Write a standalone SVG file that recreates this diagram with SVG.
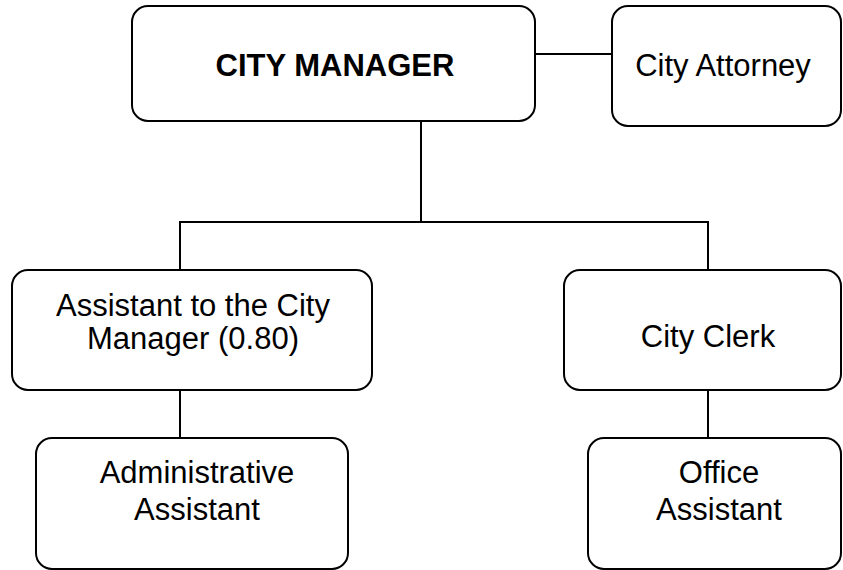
<svg xmlns="http://www.w3.org/2000/svg" width="843" height="570" viewBox="0 0 843 570">
<style>
.box{fill:#fff;stroke:#000;stroke-width:2}
.ln{fill:none;stroke:#000;stroke-width:2}
text{font-family:"Liberation Sans",Arial,sans-serif;font-size:31px;fill:#000;text-anchor:middle}
.b{font-weight:bold}
</style>
<rect width="843" height="570" fill="#fff"/>
<g id="connectors">
<line class="ln" x1="535" y1="54" x2="612" y2="54"/>
<line class="ln" x1="421" y1="121" x2="421" y2="222"/>
<polyline class="ln" points="180,270 180,222 708,222 708,270"/>
<line class="ln" x1="180" y1="390" x2="180" y2="438"/>
<line class="ln" x1="708" y1="390" x2="708" y2="438"/>
</g>
<g id="city-manager">
<rect class="box" x="132" y="6" width="403" height="115" rx="16"/>
<text class="b" x="335" y="76">CITY MANAGER</text>
</g>
<g id="city-attorney">
<rect class="box" x="612" y="6" width="229" height="120" rx="16"/>
<text x="723" y="76">City Attorney</text>
</g>
<g id="assistant-city-manager">
<rect class="box" x="12" y="270" width="360" height="120" rx="16"/>
<text x="193" y="316">Assistant to the City</text>
<text x="193" y="349">Manager (0.80)</text>
</g>
<g id="city-clerk">
<rect class="box" x="564" y="270" width="277" height="120" rx="16"/>
<text x="708" y="347">City Clerk</text>
</g>
<g id="administrative-assistant">
<rect class="box" x="36" y="438" width="312" height="131" rx="16"/>
<text x="197" y="483">Administrative</text>
<text x="197" y="520">Assistant</text>
</g>
<g id="office-assistant">
<rect class="box" x="588" y="438" width="253" height="131" rx="16"/>
<text x="719" y="483">Office</text>
<text x="719" y="520">Assistant</text>
</g>
</svg>
